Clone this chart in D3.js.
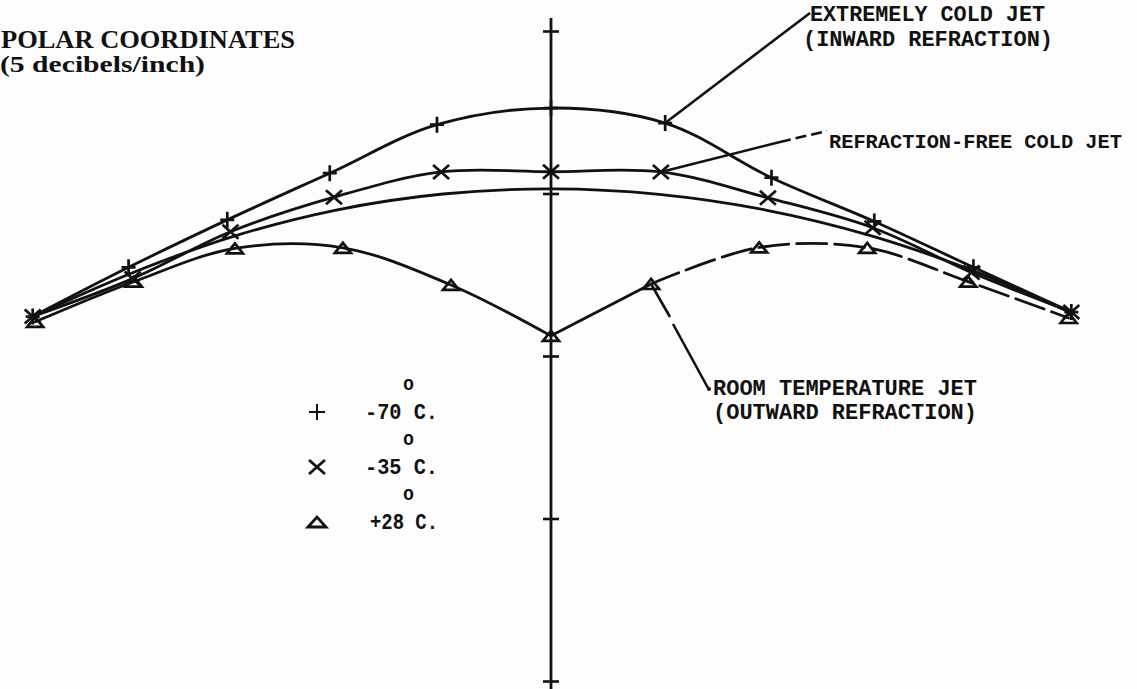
<!DOCTYPE html>
<html>
<head>
<meta charset="utf-8">
<script src="https://cdn.jsdelivr.net/npm/d3@7"></script>
<style>
  html, body { margin: 0; padding: 0; background: #fdfdfd; }
  svg { display: block; }
</style>
</head>
<body>
<svg id="chart" width="1137" height="689"></svg>
<script>
// Measurement angles, degrees either side of the vertical reference ray
const angles = [-25, -20, -15, -10, -5, 0, 5, 10, 15, 20, 25];

// Relative sound level (dB, 0 dB = outermost axis tick), 5 dB per inch
const jetMinus70 = [-5.25, -4.98, -4.50, -3.78, -2.73, -2.37, -2.68, -3.92, -4.55, -4.98, -5.10];
const jetMinus35 = [-5.25, -5.35, -4.88, -4.53, -4.19, -4.33, -4.19, -4.55, -4.75, -5.15, -5.10];
const jetPlus28  = [-5.43, -5.45, -5.41, -6.11, -7.68, -9.38, -7.65, -6.10, -5.39, -5.45, -5.30];
const refractionFree = [-5.25, -5.18, -5.04, -4.93, -4.87, -4.86, -4.88, -4.93, -5.00, -5.08, -5.12];

// Level ticks along the reference ray
const axisTicks = [-20, -15, -10, -5, 0];

// Legend entries
const legendLabels = ["-70 C.", "-35 C.", "+28 C."];
const legendSymbols = ["plus", "cross", "tri"];

// Curve annotations
const noteExtreme = ["EXTREMELY COLD JET", "(INWARD REFRACTION)"];
const noteFree = ["REFRACTION-FREE COLD JET"];
const noteRoom = ["ROOM TEMPERATURE JET", "(OUTWARD REFRACTION)"];
const titleLines = ["POLAR COORDINATES", "(5 decibels/inch)"];

const svg = d3.select("#chart");
const ink = "#111";
const mono = "'Liberation Mono', 'DejaVu Sans Mono', monospace";
const serif = "'Liberation Serif', 'DejaVu Serif', serif";

// Polar origin lies well below the visible area
const cx = 551, cy = 1428;
const r = d3.scaleLinear().domain([-20, 0]).range([747, 1397]);
const rad = d => d * Math.PI / 180;
const pos = (a, v) => [cx + r(v) * Math.sin(rad(a)), cy - r(v) * Math.cos(rad(a))];

const rows = s => angles.map((a, i) => ({ a, v: s[i] }));

const plot = svg.append("g").attr("transform", `translate(${cx},${cy})`);
const radial = d3.lineRadial()
  .angle(d => rad(d.a))
  .radius(d => r(d.v))
  .curve(d3.curveCatmullRom.alpha(0.5));

function curve(data, dash) {
  plot.append("path")
    .attr("d", radial(data))
    .attr("fill", "none")
    .attr("stroke", ink)
    .attr("stroke-width", 2.8)
    .attr("stroke-linecap", "round")
    .attr("stroke-dasharray", dash || null);
}

// Cold jets: smooth domes
curve(rows(refractionFree));
curve(rows(jetMinus35));
curve(rows(jetMinus70));
// Room temperature jet: dip on the axis, drawn as branches meeting in a cusp
const warm = rows(jetPlus28);
curve(warm.slice(0, 6));
curve(warm.slice(5, 7));
curve(warm.slice(6), "30,8");

// Reference ray (vertical axis) with level ticks
const yAxis = d3.scaleLinear().domain([-20, 0]).range([cy - r(-20), cy - r(0)]);
svg.append("line")
  .attr("x1", cx).attr("x2", cx)
  .attr("y1", 18).attr("y2", 689)
  .attr("stroke", ink).attr("stroke-width", 2.8);
[d3.axisLeft, d3.axisRight].forEach(ax => {
  const g = svg.append("g")
    .attr("transform", `translate(${cx},0)`)
    .call(ax(yAxis).tickValues(axisTicks).tickSize(8).tickSizeOuter(0).tickFormat(""));
  g.select(".domain").remove();
  g.selectAll(".tick line").attr("stroke", ink).attr("stroke-width", 2.6);
});

// Marker shapes
const shapes = {
  plus: (w = 7, h = 8) => `M${-w},0H${w}M0,${-h}V${h}`,
  cross: (w = 8, h = 7) => `M${-w},${-h}L${w},${h}M${-w},${h}L${w},${-h}`,
  tri: (w = 8, h = 5) => `M${-w},${h}L0,${-h}L${w},${h}Z`
};

function markers(series, kind) {
  svg.append("g").selectAll("path")
    .data(rows(series))
    .join("path")
    .attr("transform", d => `translate(${pos(d.a, d.v)})`)
    .attr("d", shapes[kind]())
    .attr("fill", "none")
    .attr("stroke", ink)
    .attr("stroke-width", 2.7);
}
markers(jetMinus70, "plus");
markers(jetMinus35, "cross");
markers(jetPlus28, "tri");

// Text helpers
function label(x, y, str, len, size, family, weight) {
  svg.append("text")
    .attr("x", x).attr("y", y)
    .attr("font-family", family || mono)
    .attr("font-size", size || 22)
    .attr("font-weight", weight || "bold")
    .attr("fill", ink)
    .attr("textLength", len)
    .attr("lengthAdjust", "spacingAndGlyphs")
    .text(str);
}
function leader(pts, dash) {
  svg.append("path")
    .attr("d", d3.line()(pts))
    .attr("fill", "none")
    .attr("stroke", ink)
    .attr("stroke-width", 2.6)
    .attr("stroke-dasharray", dash || null);
}

// Title
label(1, 48, titleLines[0], 294, 25, serif, "bold");
label(0, 72, titleLines[1], 205, 23, serif, "bold");

// Annotations with leader lines
const pExt = pos(angles[6], jetMinus70[6]);
leader([pExt, [810, 13]]);
label(810, 21, noteExtreme[0], 235);
label(803, 46, noteExtreme[1], 250);

const pFree = pos(angles[6], jetMinus35[6]);
leader([pFree, [780, 142]]);
leader([[780, 142], [827, 131]], "11,5");
label(829, 148, noteFree[0], 293, 21);

const pRoom = pos(angles[6], jetPlus28[6]);
leader([pRoom, [670, 317]]);
leader([[673, 324], [708, 388]]);
svg.append("circle").attr("cx", 709).attr("cy", 389).attr("r", 2).attr("fill", ink);
label(713, 395, noteRoom[0], 264);
label(713, 419, noteRoom[1], 264);

// Legend
const legendY = [412, 467, 522];
const legendShapes = {
  plus: shapes.plus(8, 8),
  cross: shapes.cross(8, 7),
  tri: shapes.tri(9, 5)
};
legendLabels.forEach((t, i) => {
  svg.append("path")
    .attr("transform", `translate(317,${legendY[i]})`)
    .attr("d", legendShapes[legendSymbols[i]])
    .attr("fill", "none").attr("stroke", ink)
    .attr("stroke-width", i === 0 ? 2 : 2.8);
  const plusSign = t.startsWith("+");
  label(plusSign ? 370 : 365, legendY[i] + 7, t, plusSign ? 68 : 73);
  label(403, legendY[i] - 22, "o", 11, 20);
});
</script>
</body>
</html>
